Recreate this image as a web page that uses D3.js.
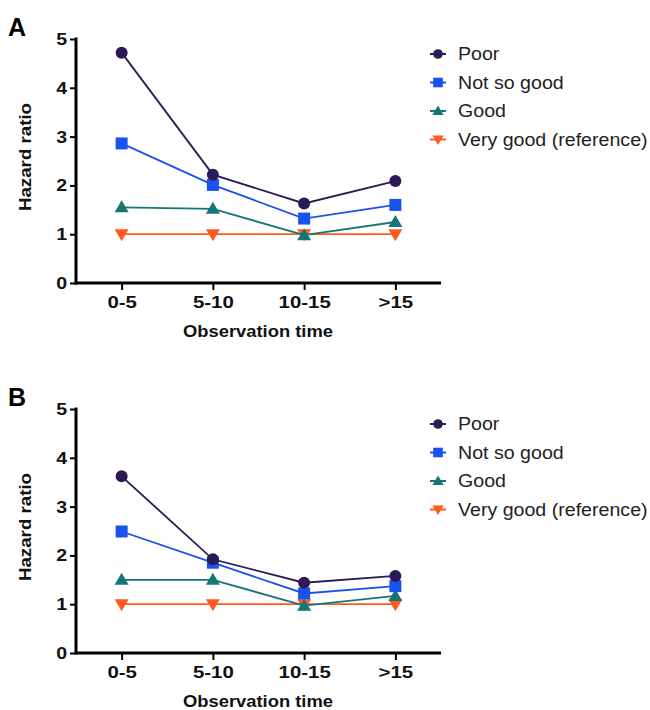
<!DOCTYPE html>
<html>
<head>
<meta charset="utf-8">
<script src="https://cdn.jsdelivr.net/npm/d3@7"></script>
<style>
  body { margin: 0; background: #fff; }
  svg { display: block; font-family: "Liberation Sans", Arial, sans-serif; }
</style>
</head>
<body>
<svg id="chart" width="650" height="710"></svg>
<script>
const periods = ["0-5", "5-10", "10-15", ">15"];
const groups = ["Poor", "Not so good", "Good", "Very good (reference)"];
const colors = ["#2b1a55", "#1a52ee", "#167676", "#ff5a1f"];
const shapes = ["circle", "square", "up", "down"];
const yTicks = [0, 1, 2, 3, 4, 5];

// panel A
const poorA = [4.72, 2.22, 1.63, 2.09];
const notSoGoodA = [2.86, 2.01, 1.32, 1.60];
const goodA = [1.55, 1.52, 0.98, 1.25];
const veryGoodA = [1, 1, 1, 1];

// panel B
const poorB = [3.62, 1.92, 1.44, 1.58];
const notSoGoodB = [2.49, 1.85, 1.22, 1.37];
const goodB = [1.50, 1.50, 0.97, 1.17];
const veryGoodB = [1, 1, 1, 1];

const panels = [
    { label: "A", top: 0, series: [poorA, notSoGoodA, goodA, veryGoodA] },
    { label: "B", top: 370, series: [poorB, notSoGoodB, goodB, veryGoodB] }
];

const svg = d3.select("#chart");

// the original font runs wider than Liberation Sans
const widen = (sel, k) => sel.each(function () {
    const w = this.getComputedTextLength();
    d3.select(this).attr("textLength", w * k).attr("lengthAdjust", "spacingAndGlyphs");
});

const marker = (sel, shape, color) => {
    if (shape === "circle") {
        sel.append("circle").attr("r", 6).attr("fill", color);
    } else if (shape === "square") {
        sel.append("rect").attr("x", -6).attr("y", -6).attr("width", 12).attr("height", 12).attr("fill", color);
    } else if (shape === "up") {
        sel.append("path").attr("d", "M0,-7L7,5L-7,5Z").attr("fill", color);
    } else {
        sel.append("path").attr("d", "M0,7L7,-5L-7,-5Z").attr("fill", color);
    }
};

panels.forEach(p => {
    const g = svg.append("g").attr("transform", `translate(0,${p.top})`);

    const x = d3.scalePoint()
        .domain(periods)
        .range([76, 441])
        .padding(0.5);

    const y = d3.scaleLinear()
        .domain([0, 5])
        .range([283, 39]);

    g.append("text")
        .attr("x", 8).attr("y", 36)
        .attr("font-size", 25).attr("font-weight", "bold")
        .text(p.label);

    // y axis
    const gy = g.append("g")
        .attr("transform", "translate(76,0)")
        .call(d3.axisLeft(y).tickValues(yTicks).tickFormat(d3.format("d")).tickSize(6).tickSizeOuter(0).tickPadding(3));
    gy.select(".domain").attr("stroke-width", 3).attr("d", "M0,37.5V284.5");
    gy.selectAll(".tick line").attr("stroke-width", 2);
    gy.selectAll(".tick text").attr("font-size", 17).attr("font-weight", "bold").attr("fill", "#111")
        .call(widen, 1.15);

    // x axis
    const gx = g.append("g")
        .attr("transform", "translate(0,283)")
        .call(d3.axisBottom(x).tickSize(7).tickSizeOuter(0).tickPadding(6));
    gx.select(".domain").attr("stroke-width", 3).attr("d", "M74.5,0H441");
    gx.selectAll(".tick line").attr("stroke-width", 2);
    gx.selectAll(".tick text").attr("font-size", 17).attr("font-weight", "bold").attr("fill", "#111")
        .call(widen, 1.2);

    g.append("text")
        .attr("x", 258).attr("y", 337)
        .attr("text-anchor", "middle")
        .attr("font-size", 17).attr("font-weight", "bold").attr("fill", "#111")
        .text("Observation time")
        .call(widen, 1.08);

    g.append("text")
        .attr("transform", "translate(31,157) rotate(-90)")
        .attr("text-anchor", "middle")
        .attr("font-size", 17).attr("font-weight", "bold").attr("fill", "#111")
        .text("Hazard ratio")
        .call(widen, 1.1);

    const line = d3.line()
        .x((d, i) => x(periods[i]))
        .y(d => y(d));

    // draw reference first so others sit on top, like the picture
    [3, 2, 1, 0].forEach(k => {
        const vals = p.series[k];
        g.append("path")
            .datum(vals)
            .attr("fill", "none")
            .attr("stroke", colors[k])
            .attr("stroke-width", 1.8)
            .attr("d", line);
        vals.forEach((v, i) => {
            const m = g.append("g").attr("transform", `translate(${x(periods[i])},${y(v)})`);
            marker(m, shapes[k], colors[k]);
        });
    });

    // legend
    groups.forEach((name, k) => {
        const ly = 54 + k * 28.5;
        g.append("line")
            .attr("x1", 430).attr("x2", 446)
            .attr("y1", ly).attr("y2", ly)
            .attr("stroke", colors[k]).attr("stroke-width", 2);
        const m = g.append("g").attr("transform", `translate(438,${ly})`);
        marker(m, shapes[k], colors[k]);
        m.select("*").attr("transform", "scale(0.8)");
        g.append("text")
            .attr("x", 458).attr("y", ly + 6)
            .attr("font-size", 17.5).attr("fill", "#222")
            .text(name)
            .call(widen, 1.12);
    });
});
</script>
</body>
</html>
